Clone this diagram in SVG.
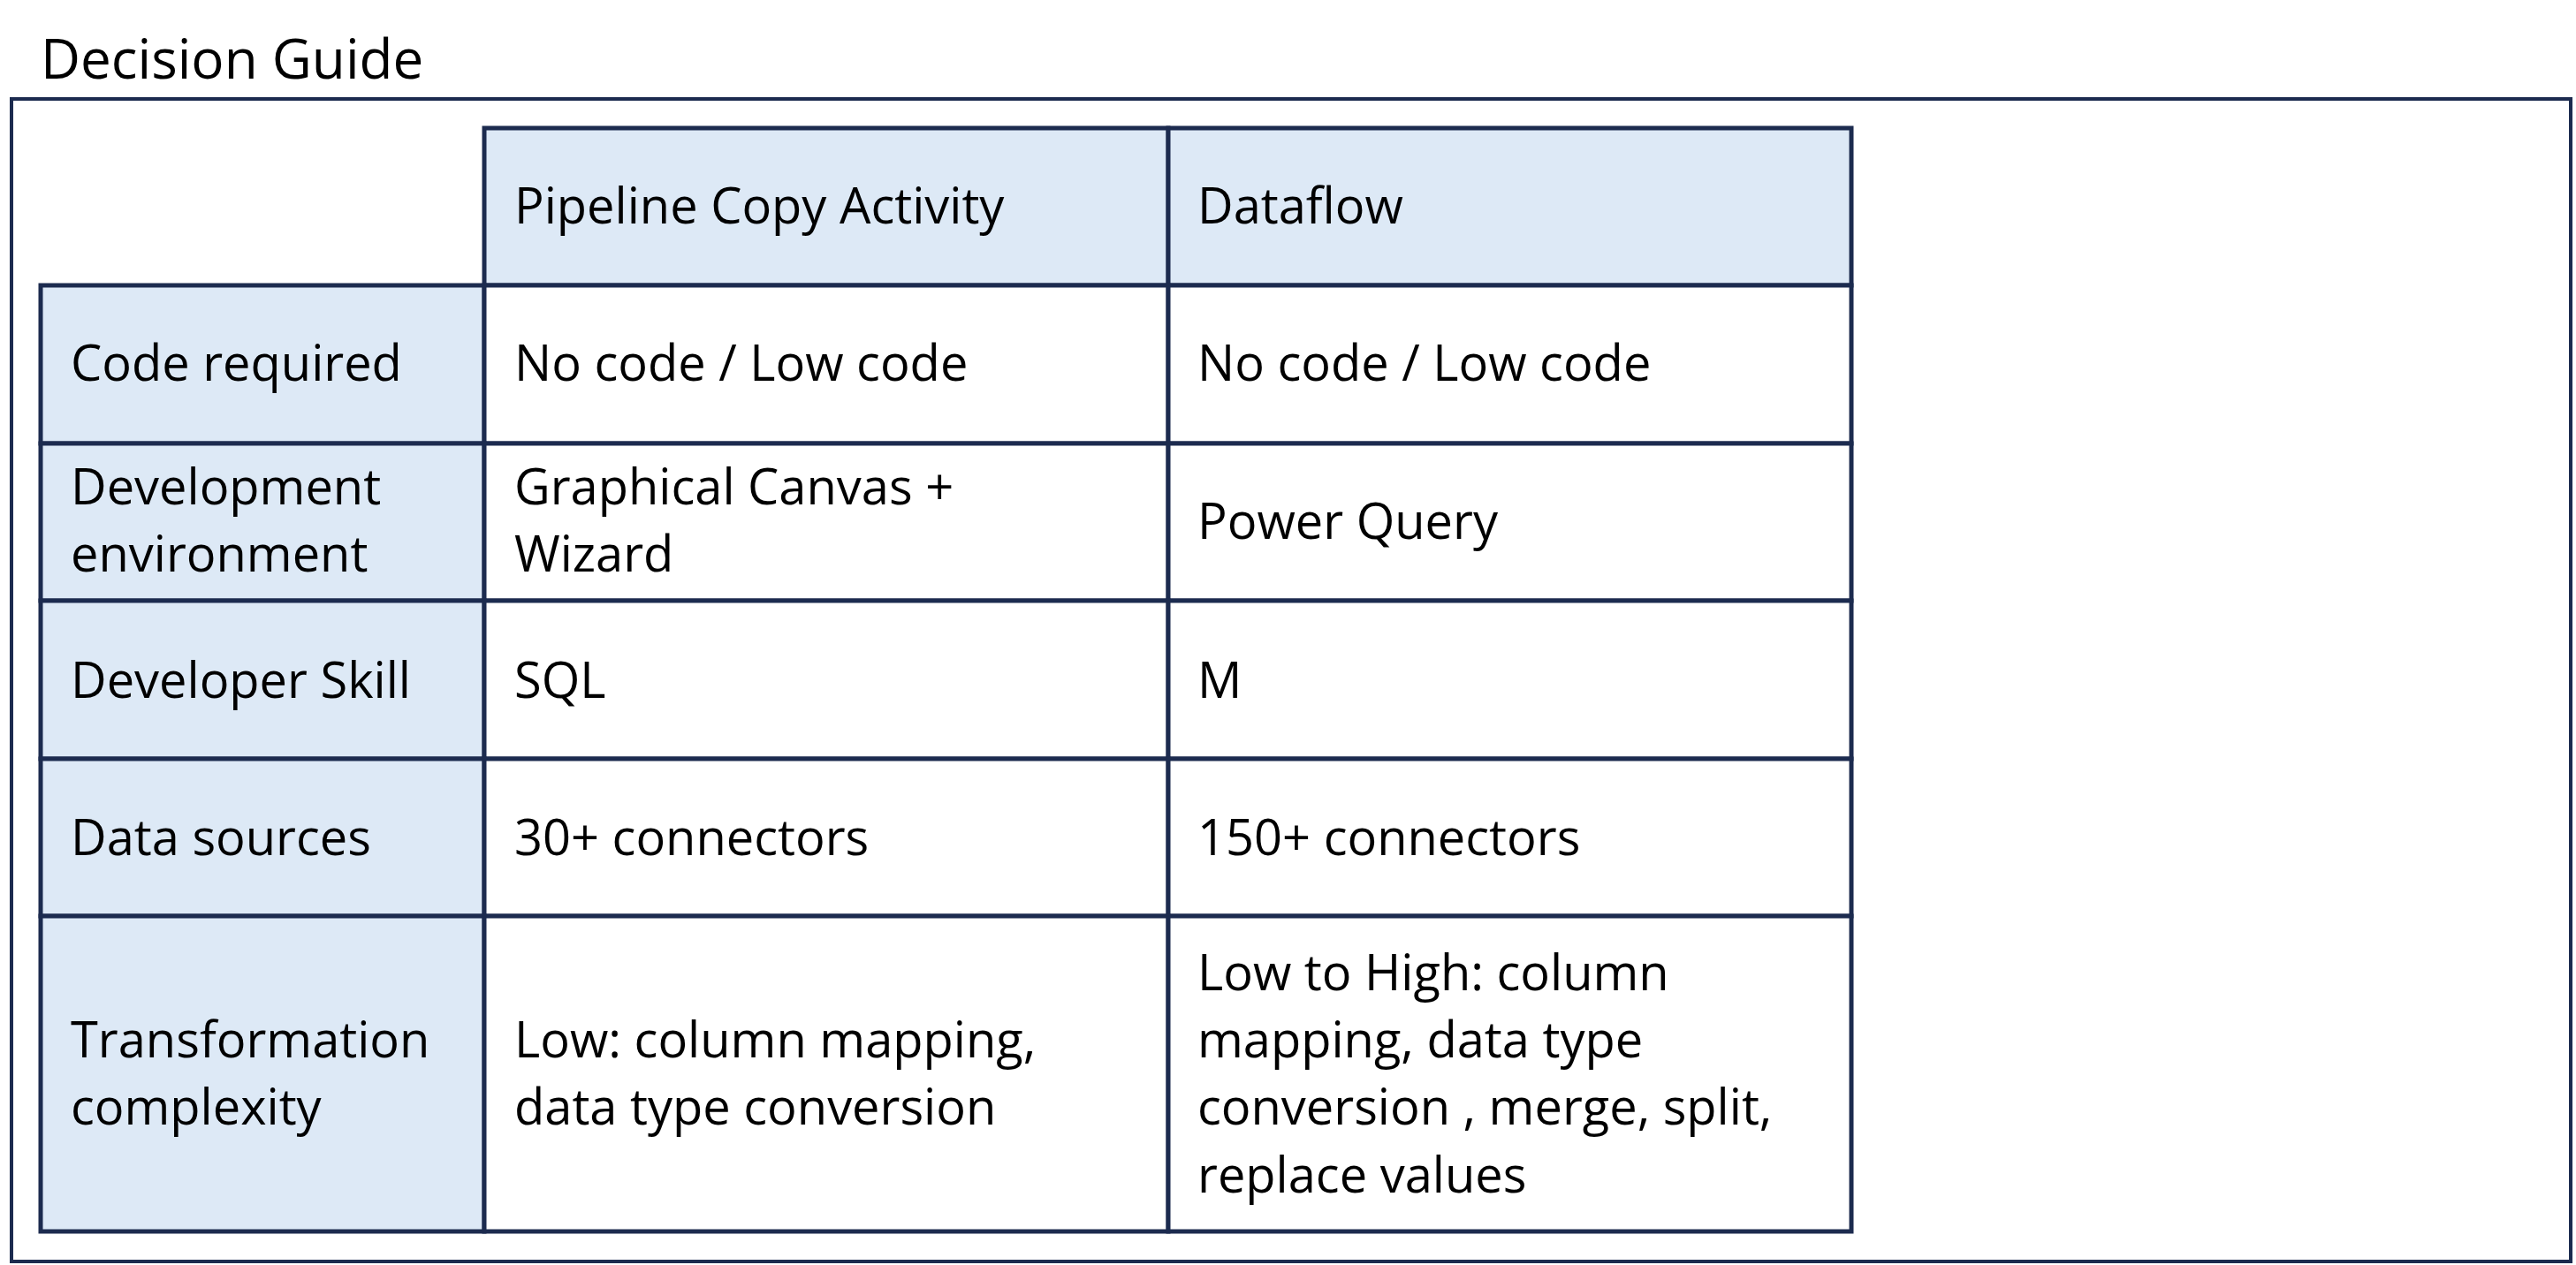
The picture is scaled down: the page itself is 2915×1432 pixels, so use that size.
<svg xmlns="http://www.w3.org/2000/svg" width="2915" height="1432" viewBox="0 0 2915 1432">
<style>
.t{font-family:"Open Sans","Liberation Sans",sans-serif;font-size:56px;fill:#000}
.h{fill:#dde9f6;stroke:#1c2b4f;stroke-width:5}
.c{fill:#fff;stroke:#1c2b4f;stroke-width:5}
</style>
<rect width="2915" height="1432" fill="#fff"/>
<text x="46" y="89" class="t" style="font-size:62px">Decision Guide</text>
<rect x="13" y="112" width="2896" height="1316" fill="none" stroke="#1c2b4f" stroke-width="4"/>
<g id="header">
<rect x="548" y="145" width="774" height="178" class="h"/>
<rect x="1322" y="145" width="773" height="178" class="h"/>
<text x="582" y="253" class="t">Pipeline Copy Activity</text>
<text x="1355" y="253" class="t">Dataflow</text>
</g>
<g id="row1">
<rect x="46" y="323" width="502" height="179" class="h"/>
<rect x="548" y="323" width="774" height="179" class="c"/>
<rect x="1322" y="323" width="773" height="179" class="c"/>
<text x="80" y="431" class="t">Code required</text>
<text x="582" y="431" class="t">No code / Low code</text>
<text x="1355" y="431" class="t">No code / Low code</text>
</g>
<g id="row2">
<rect x="46" y="502" width="502" height="178" class="h"/>
<rect x="548" y="502" width="774" height="178" class="c"/>
<rect x="1322" y="502" width="773" height="178" class="c"/>
<text x="80" y="571" class="t">Development</text>
<text x="80" y="647" class="t">environment</text>
<text x="582" y="571" class="t">Graphical Canvas +</text>
<text x="582" y="647" class="t">Wizard</text>
<text x="1355" y="610" class="t">Power Query</text>
</g>
<g id="row3">
<rect x="46" y="680" width="502" height="179" class="h"/>
<rect x="548" y="680" width="774" height="179" class="c"/>
<rect x="1322" y="680" width="773" height="179" class="c"/>
<text x="80" y="790" class="t">Developer Skill</text>
<text x="582" y="790" class="t">SQL</text>
<text x="1355" y="790" class="t">M</text>
</g>
<g id="row4">
<rect x="46" y="859" width="502" height="178" class="h"/>
<rect x="548" y="859" width="774" height="178" class="c"/>
<rect x="1322" y="859" width="773" height="178" class="c"/>
<text x="80" y="968" class="t">Data sources</text>
<text x="582" y="968" class="t">30+ connectors</text>
<text x="1355" y="968" class="t">150+ connectors</text>
</g>
<g id="row5">
<rect x="46" y="1037" width="502" height="357" class="h"/>
<rect x="548" y="1037" width="774" height="357" class="c"/>
<rect x="1322" y="1037" width="773" height="357" class="c"/>
<text x="80" y="1197" class="t">Transformation</text>
<text x="80" y="1273" class="t">complexity</text>
<text x="582" y="1197" class="t">Low: column mapping,</text>
<text x="582" y="1273" class="t">data type conversion</text>
<text x="1355" y="1121" class="t">Low to High: column</text>
<text x="1355" y="1197" class="t">mapping, data type</text>
<text x="1355" y="1273" class="t">conversion , merge, split,</text>
<text x="1355" y="1350" class="t">replace values</text>
</g>
<g id="connectors"/>
</svg>
